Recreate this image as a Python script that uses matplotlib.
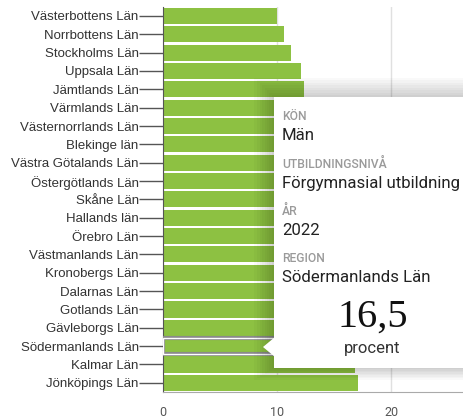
import matplotlib.pyplot as plt
from matplotlib.patches import Rectangle, Polygon

regions = ["Västerbottens Län", "Norrbottens Län", "Stockholms Län", "Uppsala Län",
           "Jämtlands Län", "Värmlands Län", "Västernorrlands Län", "Blekinge län",
           "Västra Götalands Län", "Östergötlands Län", "Skåne Län", "Hallands län",
           "Örebro Län", "Västmanlands Län", "Kronobergs Län", "Dalarnas Län",
           "Gotlands Län", "Gävleborgs Län", "Södermanlands Län", "Kalmar Län",
           "Jönköpings Län"]
# procent, men with pre-upper-secondary education, 2022 (hidden bars estimated)
values = [10.0, 10.6, 11.2, 12.1, 12.4, 12.6, 12.9, 13.2, 13.5, 13.8, 14.0,
          14.3, 14.6, 14.9, 15.2, 15.6, 15.9, 16.2, 16.5, 16.8, 17.1]
hovered = "Södermanlands Län"

tip_rows = [("KÖN", "Män"), ("UTBILDNINGSNIVÅ", "Förgymnasial utbildning"),
            ("ÅR", "2022"), ("REGION", "Södermanlands Län")]
tip_value = "16,5"
tip_unit = "procent"

green = "#8dc142"

fig = plt.figure(figsize=(4.64, 4.18), dpi=100)
ax = fig.add_axes([163 / 464, 1 - 392 / 418, 1 - 163 / 464, (392 - 6.8) / 418])

ypos = list(range(len(regions)))
ax.barh(ypos, values, height=0.88, color=green, zorder=2)
i = regions.index(hovered)
ax.barh(i, values[i], height=0.88, color=green, edgecolor="#8a8a8a", linewidth=3, zorder=3)
ax.barh(i, values[i], height=0.88, color="none", edgecolor="white", linewidth=1, zorder=4)

ax.set_ylim(len(regions) - 0.5, -0.5)
ax.set_xlim(0, 26.4)
ax.set_yticks(ypos)
ax.set_yticklabels(regions, fontsize=9.5, color="#333333", family="Liberation Sans")
ax.set_xticks([0, 10, 20])
ax.set_xticklabels(["0", "10", "20"], fontsize=9, color="#555555", family="Roboto")
ax.tick_params(axis="y", length=17, width=1, color="#555555", pad=0.5)
ax.tick_params(axis="x", length=0, pad=10)
ax.grid(axis="x", color="#e0e0e0", linewidth=1, zorder=0)
ax.set_axisbelow(True)
for s in ["top", "right"]:
    ax.spines[s].set_visible(False)
ax.spines["left"].set_color("#555555")
ax.spines["bottom"].set_color("#aaaaaa")

# tooltip
W, H = 464, 418
def fx(px):
    return px / W
def fy(py):
    return 1 - py / H

left, top, bottom = 274, 97, 368
for k in range(8):
    d = 2 + k * 2.5
    fig.patches.append(Rectangle((fx(left - d), fy(bottom + d * 0.6)), fx(W + 20),
                                 fy(top - d) - fy(bottom + d * 0.6),
                                 transform=fig.transFigure, facecolor="black",
                                 alpha=0.025, edgecolor="none", zorder=5))
fig.patches.append(Rectangle((fx(left), fy(bottom)), fx(W), fy(top) - fy(bottom),
                             transform=fig.transFigure, facecolor="white",
                             edgecolor="none", zorder=6))
fig.patches.append(Polygon([(fx(left + 1), fy(337)), (fx(263), fy(347)), (fx(left + 1), fy(357))],
                           closed=True, transform=fig.transFigure, facecolor="white",
                           edgecolor="none", zorder=6))

y = 117
for label, val in tip_rows:
    fig.text(fx(282), fy(y), label, fontsize=8.7, color="#9a9a9a", fontweight="medium",
             family="Roboto", va="center", ha="left", zorder=7)
    fig.text(fx(282), fy(y + 19), val, fontsize=12.1, color="#222222",
             family="Roboto", va="center", ha="left", zorder=7)
    y += 47.2
fig.text(fx(373), fy(317), tip_value, fontsize=29, color="#111111",
         family="Liberation Serif", va="center", ha="center", zorder=7)
fig.text(fx(372), fy(348), tip_unit, fontsize=12, color="#333333",
         family="Roboto", va="center", ha="center", zorder=7)

fig.savefig("out.png", dpi=100)
